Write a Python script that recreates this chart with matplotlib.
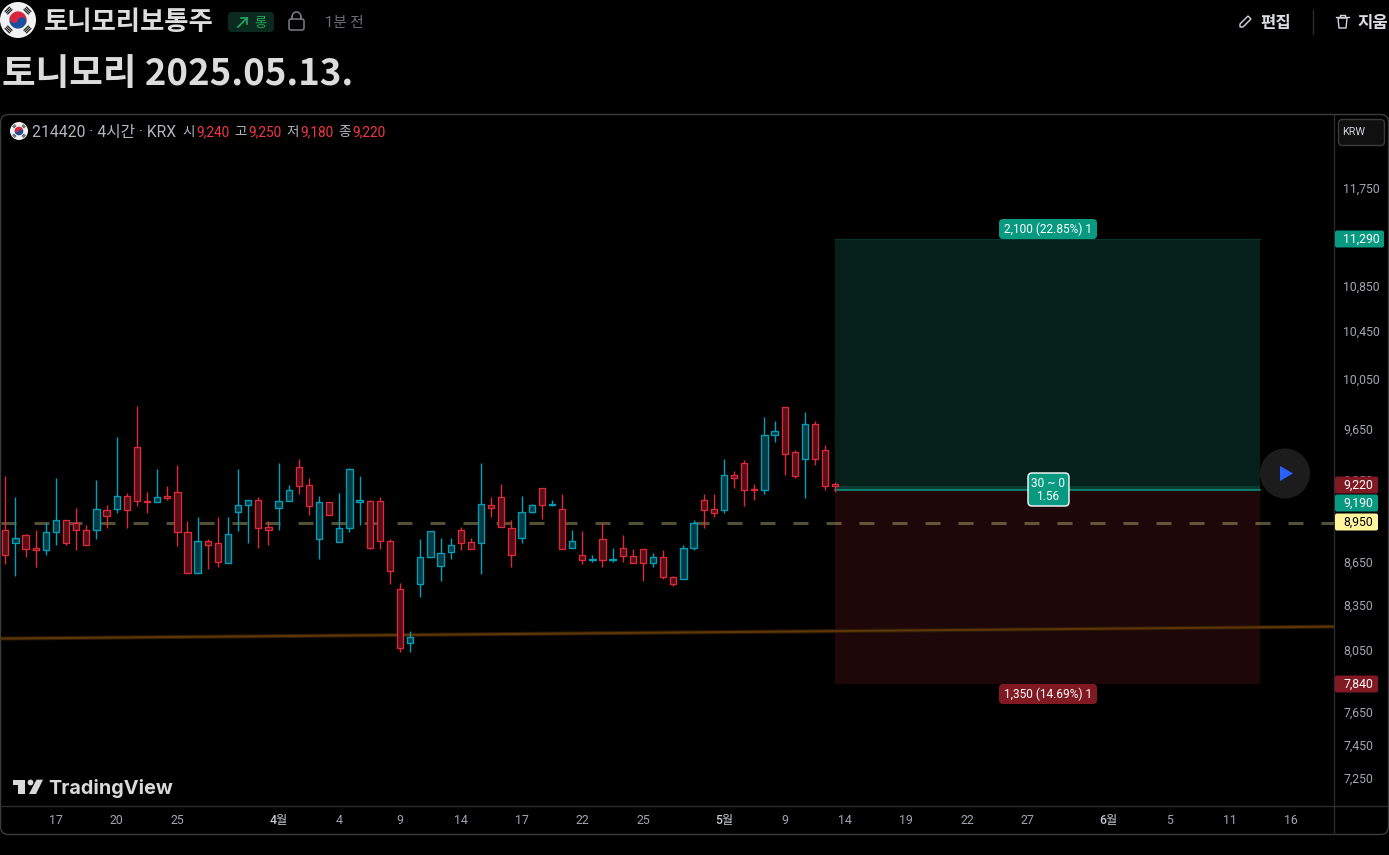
import numpy as np
import matplotlib
matplotlib.use("Agg")
import matplotlib.pyplot as plt
from matplotlib.patches import Circle, FancyBboxPatch, Polygon, Rectangle, Wedge
from matplotlib.transforms import ScaledTranslation

plt.rcParams["font.family"] = ["Roboto", "Noto Sans CJK KR", "DejaVu Sans"]

# 4시간봉 (빨강 = 하락, 청록 = 상승)
opens = [8900, 8800, 8860, 8770, 8750, 8880, 8970, 8950, 8900, 8900,
         9040, 9050, 9150, 9520, 9110, 9100, 9150, 9180, 8880, 8590,
         8820, 8800, 8660, 9030, 9080, 9120, 8920, 9060, 9110, 9370,
         9230, 8830, 9100, 8810, 8910, 9100, 9110, 9110, 8820, 8480,
         8110, 8510, 8700, 8640, 8740, 8900, 8810, 8800, 9080, 9140,
         8910, 8840, 9030, 9210, 9080, 9050, 8770, 8720, 8680, 8830,
         8680, 8770, 8710, 8760, 8660, 8700, 8560, 8550, 8770, 9120,
         9050, 9040, 9310, 9400, 9200, 9190, 9620, 9840, 9480, 9430,
         9700, 9500, 9240]
highs = [9300, 9140, 8870, 8900, 8950, 9280, 8970, 9060, 8930, 9270,
         9080, 9600, 9170, 9850, 9180, 9350, 9220, 9380, 8960, 8990,
         8830, 8990, 8990, 9350, 9120, 9140, 8960, 9400, 9230, 9430,
         9280, 9150, 9100, 9170, 9360, 9300, 9120, 9140, 8830, 8520,
         8190, 8830, 8890, 8840, 8840, 8920, 8840, 9400, 9140, 9240,
         8970, 9150, 9090, 9210, 9120, 9160, 8900, 8890, 8720, 8950,
         8770, 8860, 8760, 8760, 8730, 8750, 8570, 8790, 8970, 9160,
         9160, 9430, 9340, 9420, 9240, 9760, 9730, 9840, 9500, 9800,
         9730, 9540, 9250]
lows = [8650, 8570, 8700, 8630, 8720, 8790, 8790, 8750, 8790, 8830,
        8910, 9020, 8910, 9070, 9020, 9100, 9120, 8780, 8590, 8590,
        8620, 8630, 8660, 8890, 8800, 8770, 8790, 8900, 9110, 9160,
        9010, 8690, 9010, 8810, 8880, 8930, 8760, 8760, 8510, 8050,
        8050, 8420, 8700, 8530, 8690, 8750, 8760, 8580, 8990, 8920,
        8630, 8800, 9020, 8980, 9070, 8760, 8770, 8650, 8670, 8630,
        8670, 8670, 8660, 8530, 8630, 8550, 8500, 8550, 8750, 8910,
        8990, 9020, 9210, 9070, 9120, 9160, 9560, 9310, 9280, 9130,
        9380, 9190, 9180]
closes = [8720, 8840, 8760, 8750, 8880, 8970, 8800, 8900, 8790, 9050,
          9000, 9150, 9040, 9110, 9100, 9140, 9130, 8880, 8590, 8820,
          8790, 8670, 8870, 9080, 9120, 8910, 8900, 9110, 9190, 9220,
          9070, 9100, 9010, 8910, 9350, 9120, 8770, 8820, 8600, 8080,
          8150, 8700, 8890, 8730, 8790, 8800, 8760, 9090, 9060, 8920,
          8720, 9030, 9080, 9080, 9090, 8760, 8820, 8680, 8690, 8680,
          8690, 8710, 8660, 8660, 8700, 8560, 8510, 8770, 8950, 9040,
          9020, 9310, 9280, 9190, 9190, 9620, 9650, 9470, 9300, 9700,
          9430, 9220, 9220]

price_ticks = [11750, 10850, 10450, 10050, 9650, 9250, 8650, 8350, 8050, 7650, 7450, 7250]
date_pos = [5, 11, 17, 27, 33, 39, 45, 51, 57, 63, 71, 77, 83, 89, 95, 101, 109, 115, 121, 127]
date_labels = ["17", "20", "25", "4월", "4", "9", "14", "17", "22", "25", "5월", "9",
               "14", "19", "22", "27", "6월", "5", "11", "16"]

target_price = 11290
entry_price = 9190
stop_price = 7840
last_price = 9220
alert_price = 8950
tool_start = 82
tool_end = 124
trend_x = [-0.4, 131.2]
trend_y = [8140, 8220]

W, H = 1389, 855
RED = "#e0283c"
TEAL = "#00a0b9"
TOOL_GREEN = "#089981"
TOOL_RED = "#801922"
GREY = "#a3a6af"
KR = ["Noto Sans CJK KR"]


def price_at(y_px):
    return target_price * np.exp((239 - y_px) / 1221.5)


def box(ax, x, y, w, h, r, color, edge="none", lw=0, z=5):
    ax.add_patch(FancyBboxPatch((x + r, y + r), w - 2 * r, h - 2 * r,
                                boxstyle=f"round,pad={r},rounding_size={r}",
                                fc=color, ec=edge, lw=lw, zorder=z))


def flag(ax, cx, cy, r):
    ax.add_patch(Circle((cx, cy), r, fc="#f2f2f2", ec="none", zorder=5))
    ax.add_patch(Wedge((cx, cy), r * 0.48, 200, 20, fc="#d8273d", ec="none", zorder=6))
    ax.add_patch(Wedge((cx, cy), r * 0.48, 20, 200, fc="#1a4f9f", ec="none", zorder=6))
    ax.add_patch(Circle((cx - r * 0.22, cy - r * 0.08), r * 0.24, fc="#d8273d", ec="none", zorder=7))
    ax.add_patch(Circle((cx + r * 0.22, cy + r * 0.08), r * 0.24, fc="#1a4f9f", ec="none", zorder=7))
    for ang in [45, 135, 225, 315]:
        c, s = np.cos(np.radians(ang)), np.sin(np.radians(ang))
        for d in [0.64, 0.74, 0.84]:
            ax.plot([cx + d * r * c - 0.2 * r * s, cx + d * r * c + 0.2 * r * s],
                    [cy + d * r * s + 0.2 * r * c, cy + d * r * s - 0.2 * r * c],
                    color="#222222", lw=r * 0.05, zorder=6, solid_capstyle="butt")


fig = plt.figure(figsize=(W / 100, H / 100), dpi=100, facecolor="black")

# 차트 영역
ax = fig.add_axes([1 / W, 1 - 806 / H, 1333 / W, 691 / H], facecolor="black", zorder=1)
ax.set_yscale("log")
x_zero = 5.3
bar_px = 10.122
ax.set_xlim((1 - x_zero) / bar_px, (1334 - x_zero) / bar_px)
ax.set_ylim(price_at(806), price_at(115))

# 롱 포지션 박스
ax.add_patch(Rectangle((tool_start, entry_price), tool_end - tool_start, target_price - entry_price,
                       fc="#05201a", ec="none", zorder=1))
ax.add_patch(Rectangle((tool_start, stop_price), tool_end - tool_start, entry_price - stop_price,
                       fc="#1e0709", ec="none", zorder=1))
ax.add_patch(Rectangle((tool_start, entry_price), tool_end - tool_start, last_price - entry_price,
                       fc="#0a3b32", ec="none", zorder=1.1))
ax.plot([tool_start, tool_end], [target_price, target_price], color="#0a352d", lw=0.8, zorder=1.2)
ax.plot([tool_start, tool_end], [entry_price, entry_price], color=TOOL_GREEN, lw=1.1, zorder=1.2)

ax.plot(trend_x, trend_y, color="#2e1b04", lw=2.9, zorder=2)
ax.plot(trend_x, trend_y, color="#5f3607", lw=1.4, zorder=2)
ax.plot([ax.get_xlim()[0], ax.get_xlim()[1]], [alert_price, alert_price], color="#fff59d", alpha=0.33,
        lw=2.16, dashes=(5, 6), dash_capstyle="butt", zorder=2)

idx = np.arange(len(opens))
o = np.array(opens)
h = np.array(highs)
l = np.array(lows)
c = np.array(closes)
colors = np.where(c >= o, TEAL, RED)
ax.vlines(idx, l, h, colors=colors, lw=1.0, zorder=3)
faces = [matplotlib.colors.to_rgba(col, 0.38) for col in colors]
ax.bar(idx, np.abs(c - o), bottom=np.minimum(o, c), width=0.62, color="black", zorder=3.5)
ax.bar(idx, np.abs(c - o), bottom=np.minimum(o, c), width=0.62, facecolor=faces,
       edgecolor=colors, lw=0.95, zorder=4)

ax.yaxis.tick_right()
ax.set_yticks(price_ticks)
ax.set_yticklabels([f"{p:,}" for p in price_ticks])
ax.yaxis.set_minor_locator(matplotlib.ticker.NullLocator())
ax.set_xticks(date_pos)
ax.set_xticklabels(date_labels)
ax.tick_params(axis="y", length=0, pad=6.5, colors=GREY, labelsize=8.8)
ax.tick_params(axis="x", length=0, pad=6, colors=GREY, labelsize=8.8)
for t in ax.get_yticklabels():
    t.set_transform(t.get_transform() + ScaledTranslation(0, 1.6 / 72, fig.dpi_scale_trans))
for t in ax.get_xticklabels():
    if "월" in t.get_text():
        t.set_fontweight("medium")
        t.set_color("#c8cad0")
for s in ax.spines.values():
    s.set_visible(False)

# 화면 요소는 픽셀 좌표로
ov = fig.add_axes([0, 0, 1, 1], zorder=2)
ov.set_xlim(0, W)
ov.set_ylim(H, 0)
ov.axis("off")

box(ov, 0.5, 114.5, W - 1, 720, 8, "none", edge="#3b3b3b", lw=1, z=1)
ov.plot([1333.9, 1333.9], [115, 834], color="#2c2c2c", lw=1)
ov.plot([1, 1388], [805.9, 805.9], color="#2c2c2c", lw=1)

# 머리글
flag(ov, 18, 20, 18)
ov.text(44, 23, "토니모리보통주", color="#dedede", fontsize=19, fontweight="bold", family=KR, va="center")
box(ov, 228, 12, 46, 20, 4, "#0b2a1f")
ov.plot([238, 247], [27, 18], color="#22ab5e", lw=1.2, zorder=6)
ov.plot([241, 247, 247], [18, 18, 24], color="#22ab5e", lw=1.2, zorder=6)
ov.text(254, 23.5, "롱", color="#22ab5e", fontsize=9.5, family=KR, va="center", zorder=6)
box(ov, 289, 19, 15, 11, 2, "none", edge="#7b7e87", lw=1.1)
theta = np.linspace(np.pi, 2 * np.pi, 30)
ov.plot(296.5 + 4.5 * np.cos(theta), 17 + 5 * np.sin(theta), color="#7b7e87", lw=1.1)
ov.plot([292, 292], [17, 19], color="#7b7e87", lw=1.1)
ov.plot([301, 301], [17, 19], color="#7b7e87", lw=1.1)
ov.text(325, 22.5, "1분 전", color="#6a6d78", fontsize=10.5, va="center")

ov.add_patch(Polygon([(1240, 27), (1240, 24), (1248, 16), (1251, 19), (1243, 27)], closed=True,
                     fc="none", ec="#d1d4dc", lw=1))
ov.text(1260, 23, "편집", color="#dcdde1", fontsize=12, fontweight="bold", family=KR, va="center")
ov.plot([1312.5, 1312.5], [10, 34], color="#2a2a2a", lw=1)
ov.add_patch(Polygon([(1338, 18), (1339, 28), (1346, 28), (1347, 18)], closed=True,
                     fc="none", ec="#d1d4dc", lw=1))
ov.plot([1336, 1349], [17.5, 17.5], color="#d1d4dc", lw=1)
ov.plot([1340, 1340, 1345, 1345], [17, 15, 15, 17], color="#d1d4dc", lw=1)
ov.text(1357, 23, "지움", color="#dcdde1", fontsize=12, fontweight="bold", family=KR, va="center", clip_on=True)

ov.text(2, 74, "토니모리 2025.05.13.", color="#dcdcdc", fontsize=26.3, fontweight="bold", family=KR, va="center")

# 심볼 줄
flag(ov, 19, 131, 9)
ov.text(32, 132, "214420 · 4시간 · KRX", color="#b2b5be", fontsize=11.3, va="center")
legend_names = ["시", "고", "저", "종"]
legend_vals = [opens[-1], highs[-1], lows[-1], closes[-1]]
for xn, xv, name, val in zip([182, 234, 286, 338], [196, 248, 300, 352], legend_names, legend_vals):
    ov.text(xn, 132, name, color="#b2b5be", fontsize=9.8, va="center")
    ov.text(xv, 132, f"{val:,}", color="#f23645", fontsize=9.8, va="center")

box(ov, 1338.5, 119.5, 46, 26, 4, "#101010", edge="#3a3a3a", lw=1)
ov.text(1342, 132, "KRW", color="#d1d4dc", fontsize=7.8, va="center", zorder=6)

# 포지션 라벨
box(ov, 999, 219, 98, 20, 4, TOOL_GREEN)
ov.text(1048, 229, f"{target_price - entry_price:,} (22.85%) 1", color="white", fontsize=8.6,
        ha="center", va="center", zorder=6)
box(ov, 999, 684, 98, 20, 4, TOOL_RED)
ov.text(1048, 694, f"{entry_price - stop_price:,} (14.69%) 1", color="white", fontsize=8.6,
        ha="center", va="center", zorder=6)
box(ov, 1028, 473, 41, 33, 4, TOOL_GREEN, edge="white", lw=1)
ov.text(1048, 483, "30 ~ 0", color="white", fontsize=8.6, ha="center", va="center", zorder=6)
ov.text(1048, 496, "1.56", color="white", fontsize=8.6, ha="center", va="center", zorder=6)

# 재생 버튼
ov.add_patch(Circle((1285, 473.5), 25, fc="#1c1c1c", ec="none", zorder=5))
ov.add_patch(Polygon([(1280, 466), (1280, 481), (1293, 473.5)], closed=True, fc="#2962ff", ec="none", zorder=6))

# 가격축 라벨
price_tags = [(target_price, 239, TOOL_GREEN, "white"),
              (last_price, 485, TOOL_RED, "white"),
              (entry_price, 503, TOOL_GREEN, "white"),
              (alert_price, 522, "#fff59d", "black"),
              (stop_price, 684, TOOL_RED, "white")]
for val, y, bg, fg in price_tags:
    box(ov, 1335, y - 8.5, 49 if val >= 10000 else 43, 17, 2, bg)
    ov.text(1343.5, y, f"{val:,}", color=fg, fontsize=8.8, va="center", zorder=6)

# 로고
logo = "#d9d9d9"
ov.add_patch(Polygon([(12.7, 779.7), (25.3, 779.7), (25.3, 794), (18.3, 794), (18.3, 785), (12.7, 785)],
                     closed=True, fc=logo, ec="none"))
ov.add_patch(Circle((30.5, 782.5), 2.9, fc=logo, ec="none"))
ov.add_patch(Polygon([(36.5, 779.7), (43, 779.7), (36, 794), (29, 794)], closed=True, fc=logo, ec="none"))
ov.text(48, 793.5, "TradingView", color=logo, fontsize=14.3, fontweight="bold", family=["Inter"], va="baseline")

fig.savefig("out.png", dpi=100, facecolor="black")
